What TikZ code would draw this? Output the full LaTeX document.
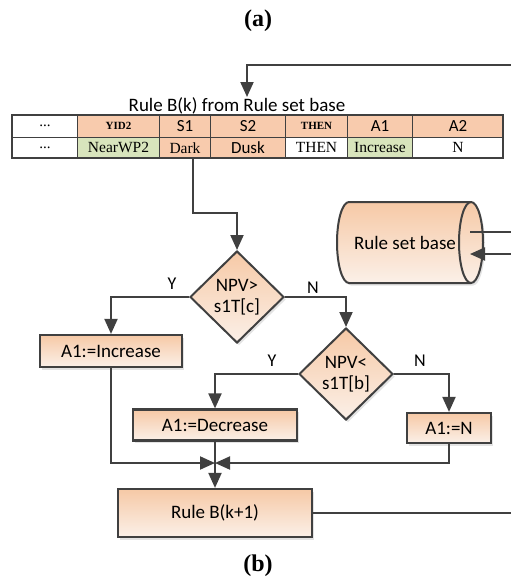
\documentclass[tikz,border=0pt]{standalone}
\usepackage{fontspec}
\setmainfont{Liberation Serif}
\newfontfamily\calfont{Carlito}
\usetikzlibrary{arrows.meta,shapes.geometric,shadows}
\definecolor{dk}{HTML}{404040}
\definecolor{or1}{HTML}{F6C9A6}
\definecolor{or2}{HTML}{FBF0E8}
\definecolor{tor}{HTML}{F8CBAD}
\definecolor{tgr}{HTML}{D8E4BC}
\begin{document}
\begin{tikzpicture}[x=1pt,y=-1pt,
  ln/.style={draw=dk,line width=2pt},
  arr/.style={ln,-{Triangle[length=15pt,width=13pt]}},
  grad/.style={top color=or1,bottom color=or2},
  sh/.style={drop shadow={opacity=0.22,shadow xshift=2pt,shadow yshift=-2.5pt}},
  big/.style={font=\calfont\fontsize{19}{21}\selectfont},
  proc/.style={rectangle,draw=dk,line width=2.2pt,grad,sh,inner sep=0pt,big},
  dec/.style={diamond,draw=dk,line width=2pt,grad,sh,inner sep=0pt,minimum width=94pt,minimum height=92pt,align=center,big},
  lab/.style={font=\calfont\fontsize{18}{20}\selectfont},
  cell/.style={rectangle,draw=dk,line width=1pt,anchor=north west,inner sep=0pt,minimum height=21.5pt},
  hs/.style={font=\calfont\fontsize{17}{19}\selectfont},
  hb/.style={font=\bfseries\fontsize{11}{12}\selectfont},
  rs/.style={font=\fontsize{15.5}{17}\selectfont},
  dots/.style={font=\fontsize{15}{17}\selectfont},
]
\useasboundingbox (0,0) rectangle (511,578);

% captions
\node[font=\bfseries\fontsize{24}{26}\selectfont] (capa) at (258,21) {(a)};
\node[font=\bfseries\fontsize{24}{26}\selectfont] (capb) at (258,566) {(b)};

% title
\node[font=\calfont\fontsize{19}{21}\selectfont] (title) at (237,106) {Rule B(k) from Rule set base};

% table row 1
\node[cell,fill=white,minimum width=65pt,dots] (h1) at (12,115) {...};
\node[cell,fill=tor,minimum width=82pt,hb] (h2) at (77,115) {YID2};
\node[cell,fill=tor,minimum width=51pt,hs] (h3) at (159,115) {S1};
\node[cell,fill=tor,minimum width=75pt,hs] (h4) at (210,115) {S2};
\node[cell,fill=tor,minimum width=62pt,hb] (h5) at (285,115) {THEN};
\node[cell,fill=tor,minimum width=65pt,hs] (h6) at (347,115) {A1};
\node[cell,fill=tor,minimum width=91pt,hs] (h7) at (412,115) {A2};
% table row 2
\node[cell,fill=white,minimum width=65pt,dots] (r1) at (12,136.5) {...};
\node[cell,fill=tgr,minimum width=82pt,rs] (r2) at (77,136.5) {NearWP2};
\node[cell,fill=tor,minimum width=51pt,rs] (r3) at (159,136.5) {Dark};
\node[cell,fill=tor,minimum width=75pt,hs] (r4) at (210,136.5) {Dusk};
\node[cell,fill=white,minimum width=62pt,rs] (r5) at (285,136.5) {THEN};
\node[cell,fill=tgr,minimum width=65pt,rs] (r6) at (347,136.5) {Increase};
\node[cell,fill=white,minimum width=91pt,rs] (r7) at (412,136.5) {N};
\draw[dk,line width=2pt] (12,115) rectangle (503,158);

% cylinder
\path[draw=dk,line width=2pt,grad,sh] (349,202) -- (471,202)
  arc[start angle=90,end angle=-90,x radius=12pt,y radius=40.5pt] -- (349,283)
  arc[start angle=270,end angle=90,x radius=12pt,y radius=40.5pt] -- cycle;
\draw[dk,line width=2pt] (471,202) arc[start angle=90,end angle=270,x radius=12pt,y radius=40.5pt];
\node[big] (base) at (405,243) {Rule set base};

% flow nodes
\node[dec] (d1) at (237,297) {NPV>\\s1T[c]};
\node[dec] (d2) at (346,374) {NPV<\\s1T[b]};
\node[proc,minimum width=142pt,minimum height=32pt] (inc) at (111,351) {A1:=Increase};
\node[proc,minimum width=164pt,minimum height=31pt] (dec) at (215,425) {A1:=Decrease};
\node[proc,minimum width=84pt,minimum height=30pt] (nn) at (449,428) {A1:=N};
\node[proc,minimum width=194pt,minimum height=48pt] (rk) at (215,513) {Rule B(k+1)};

% labels
\node[lab] (y1) at (172,284) {Y};
\node[lab] (n1) at (313,288) {N};
\node[lab] (y2) at (272,361) {Y};
\node[lab] (n2) at (420,361) {N};

% coordinates
\coordinate (topR) at (511,65);
\coordinate (tin) at (247,97);
\coordinate (tb) at (193,158);
\coordinate (m) at (215,463);
\coordinate (outR) at (511,513);
\coordinate (cA) at (511,232);
\coordinate (cAe) at (470,232);
\coordinate (cB) at (511,254);
\coordinate (cBe) at (470,254);

% connectors
\draw[arr] (topR) -| (tin);
\draw[arr] (tb) -- ++(0,55) -| (d1.north);
\draw[arr] (d1.west) -| (inc.north);
\draw[arr] (d1.east) -| (d2.north);
\draw[arr] (d2.west) -| (dec.north);
\draw[arr] (d2.east) -| (nn.north);
\draw[arr] (inc.south) |- (m);
\draw[arr] (nn.south) |- (m);
\draw[ln] (dec.south) -- (m);
\draw[arr] (m) -- (rk.north);
\draw[ln] (rk.east) -- (outR);
\draw[ln] (cAe) -- (cA);
\draw[arr] (cB) -- (cBe);
\end{tikzpicture}
\end{document}
